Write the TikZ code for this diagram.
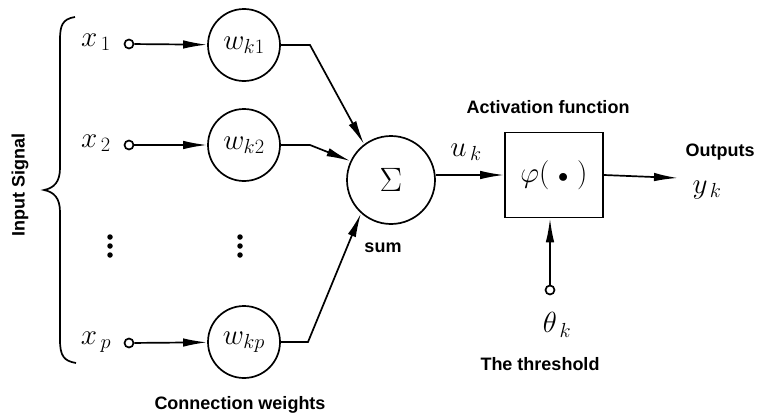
\documentclass[tikz,border=0pt]{standalone}
\usepackage{graphicx}
\usepackage{fix-cm}
\usepackage{fontspec}
\setsansfont{Liberation Sans}
\usetikzlibrary{arrows.meta}
\newcommand\mymath[1]{\scalebox{1.12}{$#1$}}
\begin{document}
\begin{tikzpicture}[x=1pt,y=-1pt,
  line width=1.7pt,
  tip/.style={-{Latex[length=24pt,width=8.5pt]}},
  port/.style={circle,draw,line width=1.7pt,minimum size=9pt,inner sep=0pt},
  mfont/.style={font=\fontsize{26}{30}\selectfont},
  wnode/.style={circle,draw,line width=1.7pt,minimum size=72pt,inner sep=0pt,mfont},
  mlabel/.style={mfont,inner sep=0pt},
  caption/.style={font=\sffamily\bfseries\fontsize{18}{21}\selectfont,inner sep=0pt},
  dot/.style={circle,fill,inner sep=0pt,minimum size=5.5pt}]
\useasboundingbox (0,0) rectangle (758,415);
% inputs
\node[mlabel] (x1) at (96,42) {\mymath{x_{\,1}}};
\node[mlabel] (x2) at (96,143) {\mymath{x_{\,2}}};
\node[mlabel] (xp) at (96,342) {\mymath{x_{\,p}}};
\node[port] (p1) at (129,44) {};
\node[port] (p2) at (129,145) {};
\node[port] (pp) at (129,343) {};
% weights
\node[wnode] (w1) at (244,45) {\mymath{w_{k1}}};
\node[wnode] (w2) at (244,145) {\mymath{w_{k2}}};
\node[wnode] (wp) at (244,342) {\mymath{w_{kp}}};
\foreach \i/\y in {a/237,b/246,c/255} {
  \node[dot] (da\i) at (110,\y) {};
  \node[dot] (db\i) at (240,\y) {};
}
% sum
\node[circle,draw,line width=1.7pt,minimum size=88pt,inner sep=0pt,mfont] (sig) at (391,180) {\scalebox{1.3}{$\Sigma$}};
% activation box
\node[draw,line width=1.7pt,minimum width=98pt,minimum height=85pt,inner sep=0pt,mfont] (act) at (554,175) {\mymath{\varphi(\ {\scriptstyle\bullet}\ )}};
\coordinate (out) at (678,178);
\node[port] (th) at (550,290) {};
% connectors
\draw[tip] (p1) -- (w1);
\draw[tip] (p2) -- (w2);
\draw[tip] (pp) -- (wp);
\coordinate (k1) at (310,45);
\coordinate (k2) at (310,145);
\coordinate (kp) at (308,342);
\draw[tip] (w1.east) -- (k1) -- (sig.127);
\draw[tip] (w2.east) -- (k2) -- (sig.155);
\draw[tip] (wp.east) -- (kp) -- (sig.228);
\draw[tip] (sig.east |- act.west) -- (act.west);
\draw[tip] (act.east) -- (out);
\draw[tip] (th) -- (act.south -| th);
% brace
\draw[line width=1.7pt] (75,17) .. controls (62,19) and (60,26) .. (60,40)
  -- (60,168) .. controls (60,182) and (54,188) .. (44,190)
  .. controls (54,192) and (60,198) .. (60,212)
  -- (60,340) .. controls (60,356) and (64,361) .. (76,363);
% labels
\node[caption,rotate=90] (inp) at (20,185) {Input Signal};
\node[mlabel] (uk) at (466,152) {\mymath{u_{\,k}}};
\node[mlabel] (yk) at (707,190) {\mymath{y_{\,k}}};
\node[mlabel] (tk) at (557,325) {\mymath{\theta_{\,k}}};
\node[caption] (lact) at (548,107) {Activation function};
\node[caption] (lout) at (720,152) {Outputs};
\node[caption] (lsum) at (383,248) {sum};
\node[caption] (lth) at (540,364) {The threshold};
\node[caption] (lcw) at (240,405) {Connection weights};
\end{tikzpicture}
\end{document}
